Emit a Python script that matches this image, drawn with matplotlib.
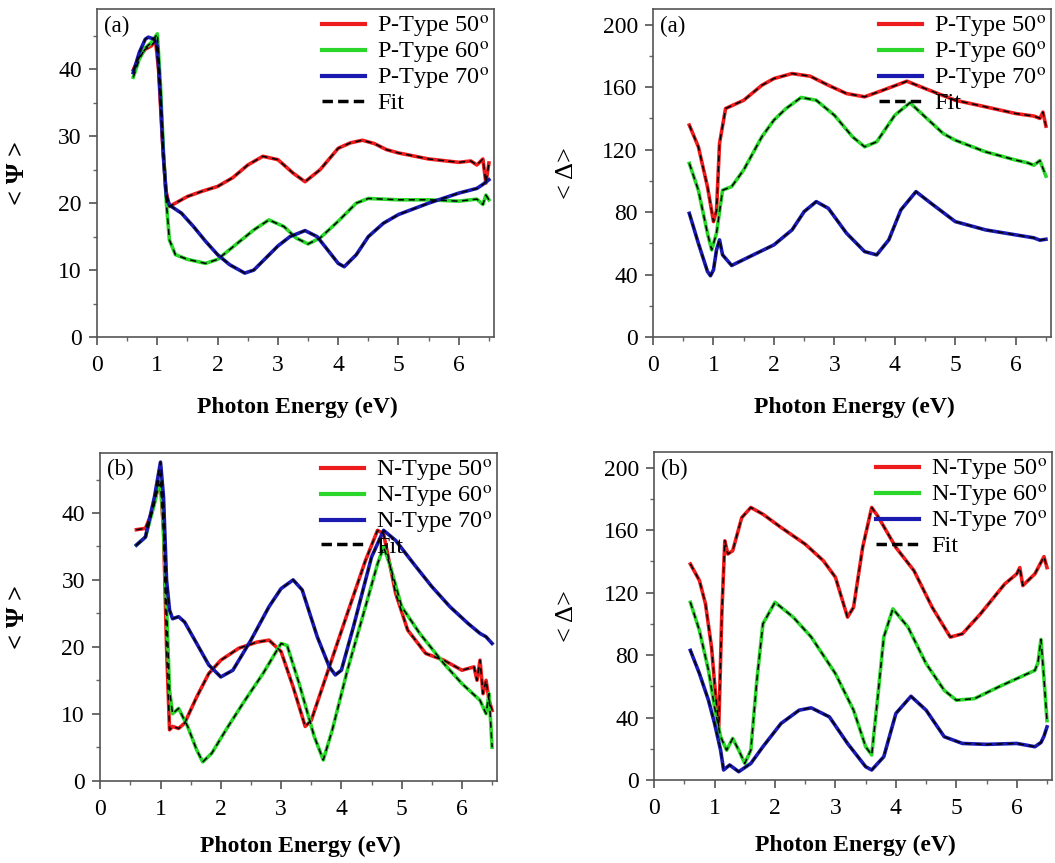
import numpy as np
import matplotlib.pyplot as plt
from matplotlib.lines import Line2D
from matplotlib.ticker import MultipleLocator

plt.rcParams['font.family'] = ['Liberation Serif', 'DejaVu Serif']
plt.rcParams['mathtext.fontset'] = 'stix'

# ---- (a) P-type, Psi ----
pa_psi_x50 = [0.6, 0.7, 0.8, 0.9, 0.97, 1.02, 1.08, 1.14, 1.2, 1.3, 1.5, 1.75, 2.0, 2.25, 2.5, 2.75,
              3.0, 3.25, 3.45, 3.7, 4.0, 4.2, 4.4, 4.6, 4.8, 5.0, 5.5, 6.0, 6.2, 6.3, 6.4, 6.45, 6.5]
pa_psi_y50 = [39.9, 41.8, 43.0, 43.5, 44.3, 40, 30, 22, 19.5, 20, 21, 21.8, 22.5, 23.8, 25.7, 27.0,
              26.5, 24.5, 23.2, 25.0, 28.2, 29.0, 29.4, 28.9, 28.0, 27.5, 26.6, 26.1, 26.3, 25.7, 26.6, 23.0, 26.0]
pa_psi_x60 = [0.6, 0.7, 0.8, 0.9, 1.0, 1.05, 1.1, 1.15, 1.2, 1.3, 1.5, 1.8, 2.0, 2.3, 2.6, 2.85, 3.1,
              3.3, 3.5, 3.7, 4.0, 4.3, 4.5, 5.0, 5.5, 6.0, 6.3, 6.4, 6.45, 6.5]
pa_psi_y60 = [38.8, 41.5, 43.2, 44.0, 45.3, 38, 28, 20, 14.5, 12.3, 11.6, 11.0, 11.6, 13.8, 16.0, 17.5, 16.5,
              14.8, 13.9, 14.8, 17.3, 20.0, 20.7, 20.5, 20.5, 20.3, 20.6, 19.8, 21.2, 20.5]
pa_psi_x70 = [0.6, 0.7, 0.8, 0.85, 0.95, 1.0, 1.05, 1.1, 1.15, 1.2, 1.4, 1.6, 1.8, 2.0, 2.2, 2.45, 2.6,
              2.8, 3.0, 3.2, 3.45, 3.65, 3.8, 4.0, 4.1, 4.3, 4.5, 4.75, 5.0, 5.5, 6.0, 6.3, 6.4, 6.5]
pa_psi_y70 = [39.5, 42.5, 44.5, 44.8, 44.5, 43.5, 36, 27, 21, 19.7, 18.5, 16.5, 14.3, 12.3, 10.8, 9.55, 10.0,
              11.8, 13.6, 15.0, 15.9, 15.0, 13.3, 11.0, 10.5, 12.3, 15.0, 17.0, 18.3, 20.0, 21.5, 22.2, 22.8, 23.5]

# ---- (a) P-type, Delta ----
pa_del_x50 = [0.6, 0.75, 0.9, 1.0, 1.05, 1.1, 1.2, 1.5, 1.8, 2.0, 2.3, 2.6, 2.9, 3.2, 3.5, 3.8, 4.2,
              4.5, 5.0, 5.5, 6.0, 6.2, 6.3, 6.4, 6.45, 6.5]
pa_del_y50 = [135.7, 121.8, 96.3, 73.9, 81, 124, 146.3, 151.6, 161.2, 165.5, 168.7, 167, 161.2, 155.9, 153.8,
              158, 163.8, 159.1, 151.6, 147.4, 143.1, 142, 141.5, 140, 144, 135]
pa_del_x60 = [0.6, 0.75, 0.9, 0.97, 1.05, 1.15, 1.3, 1.5, 1.8, 2.0, 2.2, 2.45, 2.7, 3.0, 3.3, 3.5, 3.7,
              4.0, 4.25, 4.5, 4.8, 5.0, 5.5, 6.0, 6.2, 6.3, 6.4, 6.45, 6.5]
pa_del_y60 = [111.2, 94, 66.5, 55.8, 66.5, 94, 96.3, 107, 128.2, 138.9, 146.3, 153.4, 151.6, 142, 128.2, 121.8,
              125, 142, 150, 141, 130.3, 126, 118.6, 113.3, 111.5, 110, 113, 108, 103]
pa_del_x70 = [0.6, 0.75, 0.9, 0.95, 1.0, 1.05, 1.1, 1.15, 1.3, 1.6, 2.0, 2.3, 2.5, 2.7, 2.9, 3.2, 3.5,
              3.7, 3.9, 4.1, 4.35, 4.6, 5.0, 5.5, 6.0, 6.3, 6.4, 6.5]
pa_del_y70 = [79.2, 60, 42, 39.2, 43, 55.8, 62.2, 52.6, 45.8, 51.5, 59, 68.6, 80.3, 86.7, 82.4, 66.5, 54.7,
              52.6, 62.2, 81.4, 93.1, 85.6, 73.9, 68.6, 65.4, 63.5, 62.0, 62.6]

# ---- (b) N-type, Psi ----
nb_psi_x50 = [0.6, 0.75, 0.85, 0.95, 1.0, 1.05, 1.1, 1.15, 1.2, 1.3, 1.4, 1.6, 1.8, 2.0, 2.3, 2.6, 2.8,
              3.0, 3.2, 3.4, 3.5, 3.8, 4.1, 4.4, 4.6, 4.7, 4.9, 5.1, 5.4, 5.7, 6.0, 6.2, 6.25, 6.3, 6.35,
              6.4, 6.45, 6.5]
nb_psi_y50 = [37.5, 37.7, 39.9, 43.4, 44.4, 37.4, 20, 7.6, 8.1, 7.8, 8.6, 12.5, 16, 18, 19.8, 20.7, 21,
              19.3, 14, 8.1, 9, 17, 25, 32.9, 37.4, 36.9, 28, 22.5, 19, 18, 16.5, 17, 15, 18, 13,
              15, 12, 10.5]
nb_psi_x60 = [0.6, 0.75, 0.9, 1.0, 1.05, 1.1, 1.15, 1.2, 1.3, 1.45, 1.6, 1.7, 1.85, 2.1, 2.4, 2.7, 3.0,
              3.1, 3.3, 3.55, 3.7, 3.85, 4.1, 4.4, 4.6, 4.7, 4.8, 5.0, 5.3, 5.7, 6.0, 6.3, 6.4, 6.45, 6.5]
nb_psi_y60 = [35.2, 36.4, 41.4, 45.9, 37.4, 26, 13.5, 10, 10.8, 8.1, 4.6, 2.8, 4.1, 7.8, 12, 16, 20.5,
              20.2, 14.5, 6.6, 3.1, 7.6, 16.5, 26, 32.4, 34.9, 32.4, 26, 22, 17.5, 14.5, 12, 10, 13, 5]
nb_psi_x70 = [0.6, 0.75, 0.9, 1.0, 1.05, 1.1, 1.15, 1.2, 1.3, 1.4, 1.6, 1.8, 2.0, 2.2, 2.5, 2.8, 3.0,
              3.2, 3.35, 3.6, 3.8, 3.9, 4.0, 4.2, 4.5, 4.7, 4.9, 5.2, 5.5, 5.8, 6.1, 6.3, 6.4, 6.5]
nb_psi_y70 = [35.2, 36.4, 42.4, 47.6, 42.4, 30, 25.5, 24.2, 24.5, 23.7, 20.5, 17.3, 15.5, 16.5, 21, 26, 28.7,
              30, 28.5, 21.5, 17, 15.8, 16.5, 23, 33.4, 37.4, 35.9, 32.4, 29, 26, 23.5, 22, 21.5, 20.5]

# ---- (b) N-type, Delta ----
nb_del_x50 = [0.6, 0.75, 0.85, 0.95, 1.02, 1.07, 1.12, 1.17, 1.22, 1.3, 1.45, 1.6, 1.8, 2.1, 2.5, 2.8,
              3.0, 3.1, 3.2, 3.3, 3.45, 3.6, 3.7, 4.0, 4.3, 4.6, 4.9, 5.1, 5.4, 5.8, 6.0, 6.05, 6.1,
              6.3, 6.45, 6.5]
nb_del_y50 = [138.3, 127.7, 112.8, 85.1, 53.2, 34, 106.4, 153.2, 144.7, 146.8, 168, 174.5, 170.2, 161.7,
              151, 140.4, 129.8, 117, 104.3, 110.6, 148.9, 174.5, 169, 148.9, 134, 110.6, 91.5, 93.6,
              106.4, 125.5, 132, 136, 124.5, 132, 143, 136]
nb_del_x60 = [0.6, 0.75, 0.9, 1.0, 1.1, 1.2, 1.3, 1.4, 1.5, 1.6, 1.7, 1.8, 2.0, 2.3, 2.6, 3.0, 3.3, 3.5,
              3.6, 3.7, 3.8, 3.95, 4.2, 4.5, 4.8, 5.0, 5.3, 5.7, 6.0, 6.3, 6.35, 6.4, 6.45, 6.5]
nb_del_y60 = [113.8, 95.7, 70.2, 46.8, 27.7, 19.1, 26.6, 19.1, 10.6, 19.1, 63.8, 100, 113.8, 104.3, 91.5,
              68.1, 44.7, 21.3, 16, 53.2, 91.5, 109.6, 97.9, 74.5, 57.4, 51.1, 52.1, 59.6, 64.9, 70.2,
              75, 90, 65, 38]
nb_del_x70 = [0.6, 0.75, 0.9, 1.0, 1.1, 1.15, 1.25, 1.4, 1.6, 1.8, 2.1, 2.4, 2.6, 2.9, 3.2, 3.5, 3.6,
              3.8, 4.0, 4.25, 4.5, 4.8, 5.1, 5.5, 6.0, 6.3, 6.4, 6.45, 6.5]
nb_del_y70 = [83, 68.1, 51, 36.2, 19.1, 6.4, 9.6, 5.3, 10.6, 21.3, 36.2, 44.7, 46.2, 40.4, 23.4, 8.5, 6.4,
              14.9, 42.6, 53.6, 44.7, 27.7, 23.4, 22.8, 23.4, 21.3, 24, 28, 34]

colors = ['#ec1c1c', '#2bd62b', '#1a1ab0']
angles = ['50', '60', '70']


def draw_panel(rect, curves, prefix, tag, ylim, ymajor, yminor, ylabel, ybold):
    ax = fig.add_axes(rect)
    for (x, y), c in zip(curves, colors):
        ax.plot(x, y, color=c, lw=2.6, solid_joinstyle='round', zorder=2)
    for x, y in curves:
        ax.plot(x, y, color='black', lw=1.1, dashes=(4, 3), zorder=3)
    ax.set_xlim(0, 6.58)
    ax.set_ylim(0, ylim)
    ax.xaxis.set_major_locator(MultipleLocator(1))
    ax.xaxis.set_minor_locator(MultipleLocator(0.5))
    ax.yaxis.set_major_locator(MultipleLocator(ymajor))
    ax.yaxis.set_minor_locator(MultipleLocator(yminor))
    ax.tick_params(which='major', direction='out', length=6, width=1.1, labelsize=17, pad=5, color='#444')
    ax.tick_params(which='minor', direction='out', length=3, width=1.0, color='#666')
    ax.tick_params(axis='x', which='major', pad=7)
    for s in ax.spines.values():
        s.set_color('#555')
        s.set_linewidth(1.2)
    ax.set_xlabel('Photon Energy (eV)', fontsize=17, fontweight='bold')
    ax.set_ylabel(ylabel, fontsize=19, fontweight='bold' if ybold else 'normal')
    ax.text(0.018, 0.98, tag, transform=ax.transAxes, fontsize=16.5, va='top', ha='left')
    handles = [Line2D([], [], color=c, lw=3) for c in colors]
    handles.append(Line2D([], [], color='black', lw=2.5, dashes=(3, 1.5)))
    labels = [prefix + ' ' + a + r'$^{\mathrm{o}}$' for a in angles] + ['Fit']
    ax.legend(handles, labels, loc='upper right', frameon=False, fontsize=17.5,
              handlelength=1.75, handletextpad=0.5, labelspacing=0.0,
              borderaxespad=0.05, borderpad=0.15)
    return ax


fig = plt.figure(figsize=(10.55, 8.63), dpi=100)

ax1 = draw_panel([0.092, 0.6095, 0.376, 0.380],
                 [(pa_psi_x50, pa_psi_y50), (pa_psi_x60, pa_psi_y60), (pa_psi_x70, pa_psi_y70)],
                 'P-Type', '(a)', 49, 10, 5, '< Ψ >', True)
ax2 = draw_panel([0.619, 0.6095, 0.377, 0.380],
                 [(pa_del_x50, pa_del_y50), (pa_del_x60, pa_del_y60), (pa_del_x70, pa_del_y70)],
                 'P-Type', '(a)', 210, 40, 20, '< Δ>', False)
ax3 = draw_panel([0.095, 0.0954, 0.376, 0.380],
                 [(nb_psi_x50, nb_psi_y50), (nb_psi_x60, nb_psi_y60), (nb_psi_x70, nb_psi_y70)],
                 'N-Type', '(b)', 49, 10, 5, '< Ψ >', True)
ax4 = draw_panel([0.620, 0.0962, 0.377, 0.380],
                 [(nb_del_x50, nb_del_y50), (nb_del_x60, nb_del_y60), (nb_del_x70, nb_del_y70)],
                 'N-Type', '(b)', 210, 40, 20, '< Δ>', False)

ax1.yaxis.set_label_coords(-0.172, 0.5)
ax2.yaxis.set_label_coords(-0.188, 0.5)
ax3.yaxis.set_label_coords(-0.18, 0.5)
ax4.yaxis.set_label_coords(-0.192, 0.5)
for ax in (ax1, ax2):
    ax.xaxis.set_label_coords(0.505, -0.182)
for ax in (ax3, ax4):
    ax.xaxis.set_label_coords(0.505, -0.168)

fig.savefig('out.png', dpi=100)
